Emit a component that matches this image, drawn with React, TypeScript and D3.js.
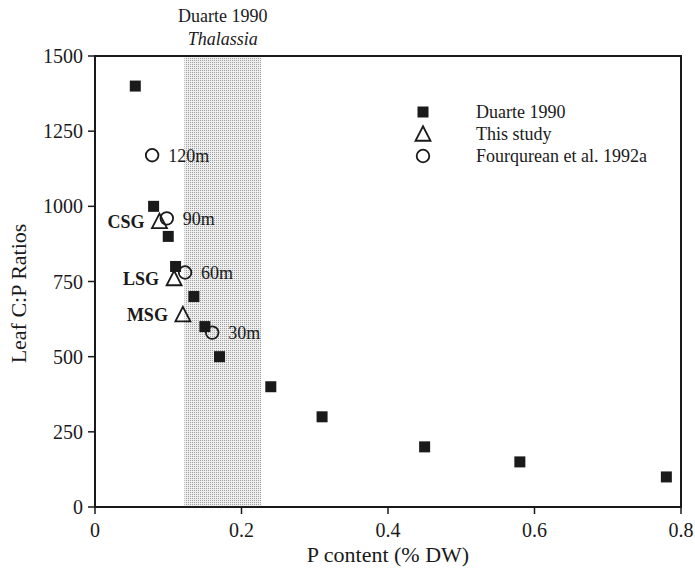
import React from "react";
import * as d3 from "d3";

const duarteX = [0.055, 0.08, 0.1, 0.11, 0.135, 0.15, 0.17, 0.24, 0.31, 0.45, 0.58, 0.78];
const duarteY = [1400, 1000, 900, 800, 700, 600, 500, 400, 300, 200, 150, 100];

const studyLabels = ["CSG", "LSG", "MSG"];
const studyX = [0.088, 0.108, 0.12];
const studyY = [950, 760, 640];

const fourLabels = ["120m", "90m", "60m", "30m"];
const fourX = [0.078, 0.098, 0.123, 0.16];
const fourY = [1170, 960, 780, 580];

const bandRange = [0.122, 0.227];
const xTicks = [0, 0.2, 0.4, 0.6, 0.8];
const xTickLabels = ["0", "0.2", "0.4", "0.6", "0.8"];
const yTicks = [0, 250, 500, 750, 1000, 1250, 1500];

const legendLabels = ["Duarte 1990", "This study", "Fourqurean et al. 1992a"];

export default function App() {
  const W = 695, H = 568;
  const left = 95, right = 681, top = 56, bottom = 507;
  const x = d3.scaleLinear().domain([0, 0.8]).range([left, right]);
  const y = d3.scaleLinear().domain([0, 1500]).range([bottom, top]);
  const font = "'Liberation Serif', 'Times New Roman', serif";
  const ink = "#1a1a1a";
  const sq = 11;
  const tri = (cx: number, cy: number, s = 15) => {
    const h = s * 0.9;
    return `M${cx},${cy - h / 2 - 1}L${cx + s / 2},${cy + h / 2}L${cx - s / 2},${cy + h / 2}Z`;
  };
  const legY = [112, 134, 156];
  return (
    <svg width={W} height={H} style={{ position: "absolute", left: 0, top: 0, background: "#fff" }} fontFamily={font}>
      <defs>
        <pattern id="stip" width="2" height="2" patternUnits="userSpaceOnUse">
          <rect width="2" height="2" fill="#eeeeee" />
          <rect width="1" height="1" fill="#a0a0a0" />
        </pattern>
      </defs>
      <rect x={x(bandRange[0])} y={top} width={x(bandRange[1]) - x(bandRange[0])} height={bottom - top} fill="url(#stip)" />
      <text x={(x(bandRange[0]) + x(bandRange[1])) / 2} y={22} textAnchor="middle" fontSize={18} fill={ink}>Duarte 1990</text>
      <text x={(x(bandRange[0]) + x(bandRange[1])) / 2} y={45} textAnchor="middle" fontSize={18} fontStyle="italic" fill={ink}>Thalassia</text>
      <rect x={left} y={top} width={right - left} height={bottom - top} fill="none" stroke={ink} strokeWidth={2} />
      {yTicks.map((t) => (
        <g key={"y" + t}>
          <line x1={left - 7} x2={left} y1={y(t)} y2={y(t)} stroke={ink} strokeWidth={1.5} />
          <text x={left - 12} y={y(t)} dy="0.35em" textAnchor="end" fontSize={20} fill={ink}>{t}</text>
        </g>
      ))}
      {xTicks.map((t, i) => (
        <g key={"x" + t}>
          <line x1={x(t)} x2={x(t)} y1={bottom} y2={bottom + 7} stroke={ink} strokeWidth={1.5} />
          <text x={x(t)} y={537} textAnchor="middle" fontSize={20} fill={ink}>{xTickLabels[i]}</text>
        </g>
      ))}
      <text x={(left + right) / 2} y={562} textAnchor="middle" fontSize={22} fill={ink}>P content (% DW)</text>
      <text transform={`translate(26, ${(top + bottom) / 2 + 12}) rotate(-90)`} textAnchor="middle" fontSize={22} fill={ink}>Leaf C:P Ratios</text>

      {duarteX.map((v, i) => (
        <rect key={"d" + i} x={x(v) - sq / 2} y={y(duarteY[i]) - sq / 2} width={sq} height={sq} fill={ink} />
      ))}
      {fourX.map((v, i) => (
        <g key={"f" + i}>
          <circle cx={x(v)} cy={y(fourY[i])} r={6.3} fill="none" stroke={ink} strokeWidth={1.8} />
          <text x={x(v) + 16} y={y(fourY[i])} dy="0.35em" fontSize={18} fill={ink}>{fourLabels[i]}</text>
        </g>
      ))}
      {studyX.map((v, i) => (
        <g key={"s" + i}>
          <path d={tri(x(v), y(studyY[i]))} fill="none" stroke={ink} strokeWidth={1.8} strokeLinejoin="miter" />
          <text x={x(v) - 15} y={y(studyY[i])} dy="0.35em" textAnchor="end" fontSize={18} fontWeight="bold" fill={ink}>{studyLabels[i]}</text>
        </g>
      ))}

      <rect x={423 - sq / 2} y={legY[0] - sq / 2} width={sq} height={sq} fill={ink} />
      <path d={tri(423, legY[1])} fill="none" stroke={ink} strokeWidth={1.8} />
      <circle cx={423} cy={legY[2]} r={6.3} fill="none" stroke={ink} strokeWidth={1.8} />
      {legendLabels.map((l, i) => (
        <text key={l} x={476} y={legY[i]} dy="0.35em" fontSize={18} fill={ink}>{l}</text>
      ))}
    </svg>
  );
}
